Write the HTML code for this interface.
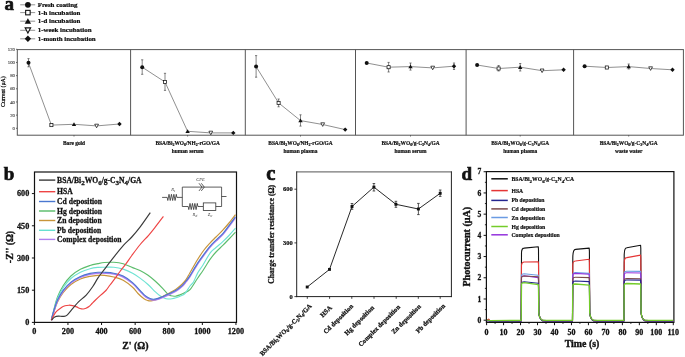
<!DOCTYPE html>
<html><head><meta charset="utf-8"><style>
html,body{margin:0;padding:0;background:#fff;}
svg{display:block;will-change:transform;filter:blur(0.35px);}
text{font-family:"Liberation Serif",serif;}
</style></head><body>
<svg width="685" height="357" viewBox="0 0 685 357">
<rect width="685" height="357" fill="#fff"/>
<text x="4.50" y="10.30" font-size="19" text-anchor="start" font-weight="bold" fill="#111" stroke="#111" stroke-width="0.665" font-family="Liberation Serif" >a</text>
<line x1="20.20" y1="4.80" x2="35.20" y2="4.80" stroke="#777" stroke-width="0.8"/>
<circle cx="27.90" cy="4.80" r="2.90" fill="#111"/>
<text x="37.70" y="6.75" font-size="6.9" text-anchor="start" font-weight="bold" fill="#111" stroke="#111" stroke-width="0.242" font-family="Liberation Serif" >Fresh coating</text>
<line x1="20.20" y1="12.60" x2="35.20" y2="12.60" stroke="#777" stroke-width="0.8"/>
<rect x="25.65" y="10.35" width="4.50" height="4.50" fill="#fff" stroke="#111" stroke-width="1.09"/>
<text x="37.70" y="14.55" font-size="6.9" text-anchor="start" font-weight="bold" fill="#111" stroke="#111" stroke-width="0.242" font-family="Liberation Serif" >1-h incubation</text>
<line x1="20.20" y1="21.20" x2="35.20" y2="21.20" stroke="#777" stroke-width="0.8"/>
<polygon points="27.90,18.17 24.71,23.68 31.09,23.68" fill="#111"/>
<text x="37.70" y="23.15" font-size="6.9" text-anchor="start" font-weight="bold" fill="#111" stroke="#111" stroke-width="0.242" font-family="Liberation Serif" >1-d incubation</text>
<line x1="20.20" y1="30.30" x2="35.20" y2="30.30" stroke="#777" stroke-width="0.8"/>
<polygon points="25.14,27.84 30.65,27.84 27.90,33.01" fill="#fff" stroke="#111" stroke-width="1.09"/>
<text x="37.70" y="32.25" font-size="6.9" text-anchor="start" font-weight="bold" fill="#111" stroke="#111" stroke-width="0.242" font-family="Liberation Serif" >1-week incubation</text>
<line x1="20.20" y1="38.80" x2="35.20" y2="38.80" stroke="#777" stroke-width="0.8"/>
<polygon points="27.90,35.61 31.09,38.80 27.90,41.99 24.71,38.80" fill="#111"/>
<text x="37.70" y="40.75" font-size="6.9" text-anchor="start" font-weight="bold" fill="#111" stroke="#111" stroke-width="0.242" font-family="Liberation Serif" >1-month incubation</text>
<rect x="17.3" y="49.6" width="666.1" height="85.6" fill="none" stroke="#555" stroke-width="1.0"/>
<line x1="130.60" y1="49.60" x2="130.60" y2="135.20" stroke="#555" stroke-width="1.0"/>
<line x1="245.30" y1="49.60" x2="245.30" y2="135.20" stroke="#555" stroke-width="1.0"/>
<line x1="355.50" y1="49.60" x2="355.50" y2="135.20" stroke="#555" stroke-width="1.0"/>
<line x1="466.10" y1="49.60" x2="466.10" y2="135.20" stroke="#555" stroke-width="1.0"/>
<line x1="573.60" y1="49.60" x2="573.60" y2="135.20" stroke="#555" stroke-width="1.0"/>
<line x1="16.00" y1="128.30" x2="17.30" y2="128.30" stroke="#444" stroke-width="0.8"/>
<text x="14.90" y="129.90" font-size="4.7" text-anchor="end" font-weight="normal" fill="#333" stroke="#333" stroke-width="0.100" font-family="Liberation Serif" >0</text>
<line x1="16.00" y1="115.13" x2="17.30" y2="115.13" stroke="#444" stroke-width="0.8"/>
<text x="14.90" y="116.73" font-size="4.7" text-anchor="end" font-weight="normal" fill="#333" stroke="#333" stroke-width="0.100" font-family="Liberation Serif" >20</text>
<line x1="16.00" y1="101.97" x2="17.30" y2="101.97" stroke="#444" stroke-width="0.8"/>
<text x="14.90" y="103.57" font-size="4.7" text-anchor="end" font-weight="normal" fill="#333" stroke="#333" stroke-width="0.100" font-family="Liberation Serif" >40</text>
<line x1="16.00" y1="88.80" x2="17.30" y2="88.80" stroke="#444" stroke-width="0.8"/>
<text x="14.90" y="90.40" font-size="4.7" text-anchor="end" font-weight="normal" fill="#333" stroke="#333" stroke-width="0.100" font-family="Liberation Serif" >60</text>
<line x1="16.00" y1="75.64" x2="17.30" y2="75.64" stroke="#444" stroke-width="0.8"/>
<text x="14.90" y="77.24" font-size="4.7" text-anchor="end" font-weight="normal" fill="#333" stroke="#333" stroke-width="0.100" font-family="Liberation Serif" >80</text>
<line x1="16.00" y1="62.47" x2="17.30" y2="62.47" stroke="#444" stroke-width="0.8"/>
<text x="14.90" y="64.07" font-size="4.7" text-anchor="end" font-weight="normal" fill="#333" stroke="#333" stroke-width="0.100" font-family="Liberation Serif" >100</text>
<line x1="16.00" y1="49.30" x2="17.30" y2="49.30" stroke="#444" stroke-width="0.8"/>
<text x="14.90" y="50.90" font-size="4.7" text-anchor="end" font-weight="normal" fill="#333" stroke="#333" stroke-width="0.100" font-family="Liberation Serif" >120</text>
<text x="0.00" y="0.00" font-size="5.9" text-anchor="middle" font-weight="normal" fill="#000" stroke="#000" stroke-width="0.207" font-family="Liberation Serif" transform="translate(5.2,91.6) rotate(-90)">Current (μA)</text>
<polyline points="28.50,62.80 51.40,125.10 74.00,124.30 96.60,125.90 119.50,124.00" fill="none" stroke="#444" stroke-width="0.6" stroke-linejoin="round" />
<line x1="28.50" y1="58.60" x2="28.50" y2="66.80" stroke="#333" stroke-width="0.6"/>
<line x1="27.40" y1="58.60" x2="29.60" y2="58.60" stroke="#333" stroke-width="0.6"/>
<line x1="27.40" y1="66.80" x2="29.60" y2="66.80" stroke="#333" stroke-width="0.6"/>
<circle cx="28.50" cy="62.80" r="2.00" fill="#111"/>
<rect x="49.85" y="123.55" width="3.10" height="3.10" fill="#fff" stroke="#111" stroke-width="0.75"/>
<polygon points="74.00,122.21 71.80,126.01 76.20,126.01" fill="#111"/>
<polygon points="94.70,124.20 98.50,124.20 96.60,127.77" fill="#fff" stroke="#111" stroke-width="0.75"/>
<polygon points="119.50,121.80 121.70,124.00 119.50,126.20 117.30,124.00" fill="#111"/>
<line x1="74.00" y1="135.20" x2="74.00" y2="136.60" stroke="#333" stroke-width="0.6"/>
<polyline points="142.20,67.20 165.00,82.00 187.60,131.30 210.80,132.90 233.30,132.90" fill="none" stroke="#444" stroke-width="0.6" stroke-linejoin="round" />
<line x1="142.20" y1="59.80" x2="142.20" y2="74.30" stroke="#333" stroke-width="0.6"/>
<line x1="141.10" y1="59.80" x2="143.30" y2="59.80" stroke="#333" stroke-width="0.6"/>
<line x1="141.10" y1="74.30" x2="143.30" y2="74.30" stroke="#333" stroke-width="0.6"/>
<circle cx="142.20" cy="67.20" r="2.00" fill="#111"/>
<line x1="165.00" y1="73.30" x2="165.00" y2="90.40" stroke="#333" stroke-width="0.6"/>
<line x1="163.90" y1="73.30" x2="166.10" y2="73.30" stroke="#333" stroke-width="0.6"/>
<line x1="163.90" y1="90.40" x2="166.10" y2="90.40" stroke="#333" stroke-width="0.6"/>
<rect x="163.45" y="80.45" width="3.10" height="3.10" fill="#fff" stroke="#111" stroke-width="0.75"/>
<polygon points="187.60,129.21 185.40,133.01 189.80,133.01" fill="#111"/>
<polygon points="208.90,131.20 212.70,131.20 210.80,134.77" fill="#fff" stroke="#111" stroke-width="0.75"/>
<polygon points="233.30,130.70 235.50,132.90 233.30,135.10 231.10,132.90" fill="#111"/>
<line x1="187.60" y1="135.20" x2="187.60" y2="136.60" stroke="#333" stroke-width="0.6"/>
<polyline points="256.10,66.60 278.60,102.90 300.50,120.60 322.70,124.50 345.20,129.60" fill="none" stroke="#444" stroke-width="0.6" stroke-linejoin="round" />
<line x1="256.10" y1="55.60" x2="256.10" y2="77.20" stroke="#333" stroke-width="0.6"/>
<line x1="255.00" y1="55.60" x2="257.20" y2="55.60" stroke="#333" stroke-width="0.6"/>
<line x1="255.00" y1="77.20" x2="257.20" y2="77.20" stroke="#333" stroke-width="0.6"/>
<circle cx="256.10" cy="66.60" r="2.00" fill="#111"/>
<line x1="278.60" y1="99.00" x2="278.60" y2="106.80" stroke="#333" stroke-width="0.6"/>
<line x1="277.50" y1="99.00" x2="279.70" y2="99.00" stroke="#333" stroke-width="0.6"/>
<line x1="277.50" y1="106.80" x2="279.70" y2="106.80" stroke="#333" stroke-width="0.6"/>
<rect x="277.05" y="101.35" width="3.10" height="3.10" fill="#fff" stroke="#111" stroke-width="0.75"/>
<line x1="300.50" y1="114.80" x2="300.50" y2="126.10" stroke="#333" stroke-width="0.6"/>
<line x1="299.40" y1="114.80" x2="301.60" y2="114.80" stroke="#333" stroke-width="0.6"/>
<line x1="299.40" y1="126.10" x2="301.60" y2="126.10" stroke="#333" stroke-width="0.6"/>
<polygon points="300.50,118.51 298.30,122.31 302.70,122.31" fill="#111"/>
<polygon points="320.80,122.80 324.60,122.80 322.70,126.37" fill="#fff" stroke="#111" stroke-width="0.75"/>
<polygon points="345.20,127.40 347.40,129.60 345.20,131.80 343.00,129.60" fill="#111"/>
<line x1="300.50" y1="135.20" x2="300.50" y2="136.60" stroke="#333" stroke-width="0.6"/>
<polyline points="366.70,63.00 388.60,67.20 410.50,66.60 432.70,67.90 454.00,66.20" fill="none" stroke="#444" stroke-width="0.6" stroke-linejoin="round" />
<circle cx="366.70" cy="63.00" r="2.00" fill="#111"/>
<line x1="388.60" y1="62.40" x2="388.60" y2="72.00" stroke="#333" stroke-width="0.6"/>
<line x1="387.50" y1="62.40" x2="389.70" y2="62.40" stroke="#333" stroke-width="0.6"/>
<line x1="387.50" y1="72.00" x2="389.70" y2="72.00" stroke="#333" stroke-width="0.6"/>
<rect x="387.05" y="65.65" width="3.10" height="3.10" fill="#fff" stroke="#111" stroke-width="0.75"/>
<line x1="410.50" y1="63.00" x2="410.50" y2="70.10" stroke="#333" stroke-width="0.6"/>
<line x1="409.40" y1="63.00" x2="411.60" y2="63.00" stroke="#333" stroke-width="0.6"/>
<line x1="409.40" y1="70.10" x2="411.60" y2="70.10" stroke="#333" stroke-width="0.6"/>
<polygon points="410.50,64.51 408.30,68.31 412.70,68.31" fill="#111"/>
<polygon points="430.80,66.20 434.60,66.20 432.70,69.77" fill="#fff" stroke="#111" stroke-width="0.75"/>
<line x1="454.00" y1="63.00" x2="454.00" y2="69.50" stroke="#333" stroke-width="0.6"/>
<line x1="452.90" y1="63.00" x2="455.10" y2="63.00" stroke="#333" stroke-width="0.6"/>
<line x1="452.90" y1="69.50" x2="455.10" y2="69.50" stroke="#333" stroke-width="0.6"/>
<polygon points="454.00,64.00 456.20,66.20 454.00,68.40 451.80,66.20" fill="#111"/>
<line x1="410.50" y1="135.20" x2="410.50" y2="136.60" stroke="#333" stroke-width="0.6"/>
<polyline points="477.10,65.00 498.60,68.50 520.20,67.20 542.10,70.70 563.60,69.80" fill="none" stroke="#444" stroke-width="0.6" stroke-linejoin="round" />
<circle cx="477.10" cy="65.00" r="2.00" fill="#111"/>
<line x1="498.60" y1="65.50" x2="498.60" y2="71.00" stroke="#333" stroke-width="0.6"/>
<line x1="497.50" y1="65.50" x2="499.70" y2="65.50" stroke="#333" stroke-width="0.6"/>
<line x1="497.50" y1="71.00" x2="499.70" y2="71.00" stroke="#333" stroke-width="0.6"/>
<rect x="497.05" y="66.95" width="3.10" height="3.10" fill="#fff" stroke="#111" stroke-width="0.75"/>
<line x1="520.20" y1="63.50" x2="520.20" y2="71.00" stroke="#333" stroke-width="0.6"/>
<line x1="519.10" y1="63.50" x2="521.30" y2="63.50" stroke="#333" stroke-width="0.6"/>
<line x1="519.10" y1="71.00" x2="521.30" y2="71.00" stroke="#333" stroke-width="0.6"/>
<polygon points="520.20,65.11 518.00,68.91 522.40,68.91" fill="#111"/>
<polygon points="540.20,69.00 544.00,69.00 542.10,72.57" fill="#fff" stroke="#111" stroke-width="0.75"/>
<polygon points="563.60,67.60 565.80,69.80 563.60,72.00 561.40,69.80" fill="#111"/>
<line x1="520.20" y1="135.20" x2="520.20" y2="136.60" stroke="#333" stroke-width="0.6"/>
<polyline points="584.60,66.20 606.80,67.50 628.70,66.60 650.60,68.50 672.50,69.80" fill="none" stroke="#444" stroke-width="0.6" stroke-linejoin="round" />
<circle cx="584.60" cy="66.20" r="2.00" fill="#111"/>
<rect x="605.25" y="65.95" width="3.10" height="3.10" fill="#fff" stroke="#111" stroke-width="0.75"/>
<line x1="628.70" y1="64.00" x2="628.70" y2="69.00" stroke="#333" stroke-width="0.6"/>
<line x1="627.60" y1="64.00" x2="629.80" y2="64.00" stroke="#333" stroke-width="0.6"/>
<line x1="627.60" y1="69.00" x2="629.80" y2="69.00" stroke="#333" stroke-width="0.6"/>
<polygon points="628.70,64.51 626.50,68.31 630.90,68.31" fill="#111"/>
<polygon points="648.70,66.80 652.50,66.80 650.60,70.37" fill="#fff" stroke="#111" stroke-width="0.75"/>
<polygon points="672.50,67.60 674.70,69.80 672.50,72.00 670.30,69.80" fill="#111"/>
<line x1="628.70" y1="135.20" x2="628.70" y2="136.60" stroke="#333" stroke-width="0.6"/>
<text x="74.00" y="144.80" font-size="5.4" text-anchor="middle" font-weight="bold" fill="#111" stroke="#111" stroke-width="0.189" font-family="Liberation Serif" >Bare gold</text>
<text x="187.60" y="144.80" font-size="5.4" text-anchor="middle" font-weight="bold" fill="#111" stroke="#111" stroke-width="0.189" font-family="Liberation Serif" >BSA/Bi<tspan font-size="4.0" dy="1.1">2</tspan><tspan dy="-1.1">WO</tspan><tspan font-size="4.0" dy="1.1">6</tspan><tspan dy="-1.1">/NH</tspan><tspan font-size="4.0" dy="1.1">2</tspan><tspan dy="-1.1">-rGO/GA</tspan></text>
<text x="187.60" y="152.60" font-size="5.4" text-anchor="middle" font-weight="bold" fill="#111" stroke="#111" stroke-width="0.189" font-family="Liberation Serif" >human serum</text>
<text x="300.50" y="144.80" font-size="5.4" text-anchor="middle" font-weight="bold" fill="#111" stroke="#111" stroke-width="0.189" font-family="Liberation Serif" >BSA/Bi<tspan font-size="4.0" dy="1.1">2</tspan><tspan dy="-1.1">WO</tspan><tspan font-size="4.0" dy="1.1">6</tspan><tspan dy="-1.1">/NH</tspan><tspan font-size="4.0" dy="1.1">2</tspan><tspan dy="-1.1">-rGO/GA</tspan></text>
<text x="300.50" y="152.60" font-size="5.4" text-anchor="middle" font-weight="bold" fill="#111" stroke="#111" stroke-width="0.189" font-family="Liberation Serif" >human plasma</text>
<text x="410.50" y="144.80" font-size="5.4" text-anchor="middle" font-weight="bold" fill="#111" stroke="#111" stroke-width="0.189" font-family="Liberation Serif" >BSA/Bi<tspan font-size="4.0" dy="1.1">2</tspan><tspan dy="-1.1">WO</tspan><tspan font-size="4.0" dy="1.1">6</tspan><tspan dy="-1.1">/g-C</tspan><tspan font-size="4.0" dy="1.1">3</tspan><tspan dy="-1.1">N</tspan><tspan font-size="4.0" dy="1.1">4</tspan><tspan dy="-1.1">/GA</tspan></text>
<text x="410.50" y="152.60" font-size="5.4" text-anchor="middle" font-weight="bold" fill="#111" stroke="#111" stroke-width="0.189" font-family="Liberation Serif" >human serum</text>
<text x="520.20" y="144.80" font-size="5.4" text-anchor="middle" font-weight="bold" fill="#111" stroke="#111" stroke-width="0.189" font-family="Liberation Serif" >BSA/Bi<tspan font-size="4.0" dy="1.1">2</tspan><tspan dy="-1.1">WO</tspan><tspan font-size="4.0" dy="1.1">6</tspan><tspan dy="-1.1">/g-C</tspan><tspan font-size="4.0" dy="1.1">3</tspan><tspan dy="-1.1">N</tspan><tspan font-size="4.0" dy="1.1">4</tspan><tspan dy="-1.1">/GA</tspan></text>
<text x="520.20" y="152.60" font-size="5.4" text-anchor="middle" font-weight="bold" fill="#111" stroke="#111" stroke-width="0.189" font-family="Liberation Serif" >human plasma</text>
<text x="628.70" y="144.80" font-size="5.4" text-anchor="middle" font-weight="bold" fill="#111" stroke="#111" stroke-width="0.189" font-family="Liberation Serif" >BSA/Bi<tspan font-size="4.0" dy="1.1">2</tspan><tspan dy="-1.1">WO</tspan><tspan font-size="4.0" dy="1.1">6</tspan><tspan dy="-1.1">/g-C</tspan><tspan font-size="4.0" dy="1.1">3</tspan><tspan dy="-1.1">N</tspan><tspan font-size="4.0" dy="1.1">4</tspan><tspan dy="-1.1">/GA</tspan></text>
<text x="628.70" y="152.60" font-size="5.4" text-anchor="middle" font-weight="bold" fill="#111" stroke="#111" stroke-width="0.189" font-family="Liberation Serif" >waste water</text>
<text x="3.80" y="180.30" font-size="19" text-anchor="start" font-weight="bold" fill="#111" stroke="#111" stroke-width="0.665" font-family="Liberation Serif" >b</text>
<rect x="34.5" y="172.0" width="202.0" height="150.39999999999998" fill="none" stroke="#111" stroke-width="1.2"/>
<line x1="34.35" y1="322.40" x2="34.35" y2="325.00" stroke="#111" stroke-width="1.0"/>
<text x="34.35" y="334.40" font-size="8.2" text-anchor="middle" font-weight="bold" fill="#111" stroke="#111" stroke-width="0.287" font-family="Liberation Serif" >0</text>
<line x1="67.95" y1="322.40" x2="67.95" y2="325.00" stroke="#111" stroke-width="1.0"/>
<text x="67.95" y="334.40" font-size="8.2" text-anchor="middle" font-weight="bold" fill="#111" stroke="#111" stroke-width="0.287" font-family="Liberation Serif" >200</text>
<line x1="101.55" y1="322.40" x2="101.55" y2="325.00" stroke="#111" stroke-width="1.0"/>
<text x="101.55" y="334.40" font-size="8.2" text-anchor="middle" font-weight="bold" fill="#111" stroke="#111" stroke-width="0.287" font-family="Liberation Serif" >400</text>
<line x1="135.15" y1="322.40" x2="135.15" y2="325.00" stroke="#111" stroke-width="1.0"/>
<text x="135.15" y="334.40" font-size="8.2" text-anchor="middle" font-weight="bold" fill="#111" stroke="#111" stroke-width="0.287" font-family="Liberation Serif" >600</text>
<line x1="168.75" y1="322.40" x2="168.75" y2="325.00" stroke="#111" stroke-width="1.0"/>
<text x="168.75" y="334.40" font-size="8.2" text-anchor="middle" font-weight="bold" fill="#111" stroke="#111" stroke-width="0.287" font-family="Liberation Serif" >800</text>
<line x1="202.35" y1="322.40" x2="202.35" y2="325.00" stroke="#111" stroke-width="1.0"/>
<text x="202.35" y="334.40" font-size="8.2" text-anchor="middle" font-weight="bold" fill="#111" stroke="#111" stroke-width="0.287" font-family="Liberation Serif" >1000</text>
<line x1="235.95" y1="322.40" x2="235.95" y2="325.00" stroke="#111" stroke-width="1.0"/>
<text x="235.95" y="334.40" font-size="8.2" text-anchor="middle" font-weight="bold" fill="#111" stroke="#111" stroke-width="0.287" font-family="Liberation Serif" >1200</text>
<line x1="31.90" y1="322.40" x2="34.50" y2="322.40" stroke="#111" stroke-width="1.0"/>
<text x="29.30" y="325.20" font-size="8.2" text-anchor="end" font-weight="bold" fill="#111" stroke="#111" stroke-width="0.287" font-family="Liberation Serif" >0</text>
<line x1="31.90" y1="290.19" x2="34.50" y2="290.19" stroke="#111" stroke-width="1.0"/>
<text x="29.30" y="293.00" font-size="8.2" text-anchor="end" font-weight="bold" fill="#111" stroke="#111" stroke-width="0.287" font-family="Liberation Serif" >150</text>
<line x1="31.90" y1="257.99" x2="34.50" y2="257.99" stroke="#111" stroke-width="1.0"/>
<text x="29.30" y="260.79" font-size="8.2" text-anchor="end" font-weight="bold" fill="#111" stroke="#111" stroke-width="0.287" font-family="Liberation Serif" >300</text>
<line x1="31.90" y1="225.78" x2="34.50" y2="225.78" stroke="#111" stroke-width="1.0"/>
<text x="29.30" y="228.58" font-size="8.2" text-anchor="end" font-weight="bold" fill="#111" stroke="#111" stroke-width="0.287" font-family="Liberation Serif" >450</text>
<line x1="31.90" y1="193.58" x2="34.50" y2="193.58" stroke="#111" stroke-width="1.0"/>
<text x="29.30" y="196.38" font-size="8.2" text-anchor="end" font-weight="bold" fill="#111" stroke="#111" stroke-width="0.287" font-family="Liberation Serif" >600</text>
<text x="135.40" y="349.00" font-size="9.9" text-anchor="middle" font-weight="bold" fill="#111" stroke="#111" stroke-width="0.347" font-family="Liberation Serif" >Z' (Ω)</text>
<text x="0.00" y="0.00" font-size="9.9" text-anchor="middle" font-weight="bold" fill="#111" stroke="#111" stroke-width="0.347" font-family="Liberation Serif" transform="translate(13.3,247) rotate(-90)">-Z'' (Ω)</text>
<line x1="39.00" y1="180.10" x2="55.30" y2="180.10" stroke="#3a3a3a" stroke-width="1.4"/>
<text x="57.10" y="182.70" font-size="7.6" text-anchor="start" font-weight="bold" fill="#111" stroke="#111" stroke-width="0.266" font-family="Liberation Serif" >BSA/Bi<tspan font-size="7.0" dy="2">2</tspan><tspan dy="-2">WO</tspan><tspan font-size="7.0" dy="2">6</tspan><tspan dy="-2">/g-C</tspan><tspan font-size="7.0" dy="2">3</tspan><tspan dy="-2">N</tspan><tspan font-size="7.0" dy="2">4</tspan><tspan dy="-2">/GA</tspan></text>
<line x1="39.00" y1="191.70" x2="55.30" y2="191.70" stroke="#ee4444" stroke-width="1.4"/>
<text x="57.10" y="194.30" font-size="7.6" text-anchor="start" font-weight="bold" fill="#111" stroke="#111" stroke-width="0.266" font-family="Liberation Serif" >HSA</text>
<line x1="39.00" y1="201.50" x2="55.30" y2="201.50" stroke="#4a78d0" stroke-width="1.4"/>
<text x="57.10" y="204.10" font-size="7.6" text-anchor="start" font-weight="bold" fill="#111" stroke="#111" stroke-width="0.266" font-family="Liberation Serif" >Cd deposition</text>
<line x1="39.00" y1="211.00" x2="55.30" y2="211.00" stroke="#55bb66" stroke-width="1.4"/>
<text x="57.10" y="213.60" font-size="7.6" text-anchor="start" font-weight="bold" fill="#111" stroke="#111" stroke-width="0.266" font-family="Liberation Serif" >Hg deposition</text>
<line x1="39.00" y1="220.50" x2="55.30" y2="220.50" stroke="#c8953a" stroke-width="1.4"/>
<text x="57.10" y="223.10" font-size="7.6" text-anchor="start" font-weight="bold" fill="#111" stroke="#111" stroke-width="0.266" font-family="Liberation Serif" >Zn deposition</text>
<line x1="39.00" y1="230.30" x2="55.30" y2="230.30" stroke="#66e0d0" stroke-width="1.4"/>
<text x="57.10" y="232.90" font-size="7.6" text-anchor="start" font-weight="bold" fill="#111" stroke="#111" stroke-width="0.266" font-family="Liberation Serif" >Pb deposition</text>
<line x1="39.00" y1="239.40" x2="55.30" y2="239.40" stroke="#b080ee" stroke-width="1.4"/>
<text x="57.10" y="242.00" font-size="7.6" text-anchor="start" font-weight="bold" fill="#111" stroke="#111" stroke-width="0.266" font-family="Liberation Serif" >Complex deposition</text>
<path d="M51.40,320.20 C51.78,318.55 52.68,314.17 53.70,310.30 C54.72,306.43 55.90,301.13 57.50,297.00 C59.10,292.87 61.07,289.00 63.30,285.50 C65.53,282.00 68.05,278.70 70.90,276.00 C73.75,273.30 77.22,271.05 80.40,269.30 C83.58,267.55 87.07,266.45 90.00,265.50 C92.93,264.55 95.60,264.10 98.00,263.60 C100.40,263.10 101.77,262.72 104.40,262.50 C107.03,262.28 110.67,262.08 113.80,262.30 C116.93,262.52 120.07,262.92 123.20,263.80 C126.33,264.68 129.80,266.50 132.60,267.60 C135.40,268.70 137.48,269.17 140.00,270.40 C142.52,271.63 145.13,273.20 147.70,275.00 C150.27,276.80 152.83,278.90 155.40,281.20 C157.97,283.50 161.05,286.67 163.10,288.80 C165.15,290.93 166.38,292.83 167.70,294.00 C169.02,295.17 169.72,295.43 171.00,295.80 C172.28,296.17 173.90,296.35 175.40,296.20 C176.90,296.05 178.47,295.48 180.00,294.90 C181.53,294.32 182.93,293.58 184.60,292.70 C186.27,291.82 187.83,292.02 190.00,289.60 C192.17,287.18 195.43,281.38 197.60,278.20 C199.77,275.02 200.90,273.67 203.00,270.50 C205.10,267.33 208.03,262.28 210.20,259.20 C212.37,256.12 213.90,254.30 216.00,252.00 C218.10,249.70 220.63,247.57 222.80,245.40 C224.97,243.23 226.88,241.20 229.00,239.00 C231.12,236.80 234.42,233.33 235.50,232.20" fill="none" stroke="#5cbd6c" stroke-width="1.15" stroke-linejoin="round"/>
<path d="M51.40,320.20 C51.78,318.67 52.68,314.62 53.70,311.00 C54.72,307.38 55.90,302.42 57.50,298.50 C59.10,294.58 61.07,290.83 63.30,287.50 C65.53,284.17 68.05,281.05 70.90,278.50 C73.75,275.95 77.22,273.83 80.40,272.20 C83.58,270.57 87.07,269.50 90.00,268.70 C92.93,267.90 95.60,267.65 98.00,267.40 C100.40,267.15 101.77,267.23 104.40,267.20 C107.03,267.17 110.67,266.88 113.80,267.20 C116.93,267.52 120.07,268.10 123.20,269.10 C126.33,270.10 129.80,271.70 132.60,273.20 C135.40,274.70 137.48,276.27 140.00,278.10 C142.52,279.93 145.13,281.90 147.70,284.20 C150.27,286.50 153.35,289.97 155.40,291.90 C157.45,293.83 158.57,294.78 160.00,295.80 C161.43,296.82 162.67,297.47 164.00,298.00 C165.33,298.53 166.67,298.87 168.00,299.00 C169.33,299.13 170.67,299.00 172.00,298.80 C173.33,298.60 174.67,298.22 176.00,297.80 C177.33,297.38 178.50,297.02 180.00,296.30 C181.50,295.58 183.33,295.22 185.00,293.50 C186.67,291.78 188.58,287.92 190.00,286.00 C191.42,284.08 192.23,284.15 193.50,282.00 C194.77,279.85 196.02,275.93 197.60,273.10 C199.18,270.27 200.90,268.37 203.00,265.00 C205.10,261.63 208.03,255.82 210.20,252.90 C212.37,249.98 213.90,249.38 216.00,247.50 C218.10,245.62 220.63,243.60 222.80,241.60 C224.97,239.60 226.88,237.73 229.00,235.50 C231.12,233.27 234.42,229.42 235.50,228.20" fill="none" stroke="#6fe3d3" stroke-width="1.15" stroke-linejoin="round"/>
<path d="M51.40,320.20 C51.78,318.92 52.68,315.53 53.70,312.50 C54.72,309.47 55.90,305.33 57.50,302.00 C59.10,298.67 61.07,295.42 63.30,292.50 C65.53,289.58 68.05,286.75 70.90,284.50 C73.75,282.25 77.22,280.37 80.40,279.00 C83.58,277.63 87.07,276.92 90.00,276.30 C92.93,275.68 95.60,275.45 98.00,275.30 C100.40,275.15 101.77,275.12 104.40,275.40 C107.03,275.68 110.67,276.18 113.80,277.00 C116.93,277.82 120.07,278.58 123.20,280.30 C126.33,282.02 130.13,285.10 132.60,287.30 C135.07,289.50 136.10,291.58 138.00,293.50 C139.90,295.42 142.33,297.62 144.00,298.80 C145.67,299.98 146.83,300.25 148.00,300.60 C149.17,300.95 149.67,301.07 151.00,300.90 C152.33,300.73 153.98,300.38 156.00,299.60 C158.02,298.82 160.77,297.35 163.10,296.20 C165.43,295.05 167.85,293.87 170.00,292.70 C172.15,291.53 174.00,290.62 176.00,289.20 C178.00,287.78 180.33,285.80 182.00,284.20 C183.67,282.60 184.67,281.52 186.00,279.60 C187.33,277.68 188.07,276.05 190.00,272.70 C191.93,269.35 195.27,263.28 197.60,259.50 C199.93,255.72 201.90,252.78 204.00,250.00 C206.10,247.22 208.20,244.97 210.20,242.80 C212.20,240.63 213.90,239.10 216.00,237.00 C218.10,234.90 220.63,232.53 222.80,230.20 C224.97,227.87 226.88,225.60 229.00,223.00 C231.12,220.40 234.42,216.00 235.50,214.60" fill="none" stroke="#c8953a" stroke-width="1.2" stroke-linejoin="round"/>
<path d="M51.40,320.20 C51.78,318.83 52.68,315.20 53.70,312.00 C54.72,308.80 55.90,304.50 57.50,301.00 C59.10,297.50 61.07,294.00 63.30,291.00 C65.53,288.00 68.05,285.28 70.90,283.00 C73.75,280.72 77.22,278.75 80.40,277.30 C83.58,275.85 87.07,274.98 90.00,274.30 C92.93,273.62 95.60,273.38 98.00,273.20 C100.40,273.02 101.77,273.05 104.40,273.20 C107.03,273.35 110.67,273.47 113.80,274.10 C116.93,274.73 120.07,275.43 123.20,277.00 C126.33,278.57 129.80,281.13 132.60,283.50 C135.40,285.87 138.10,289.20 140.00,291.20 C141.90,293.20 142.67,294.30 144.00,295.50 C145.33,296.70 146.67,297.65 148.00,298.40 C149.33,299.15 150.67,299.77 152.00,300.00 C153.33,300.23 154.15,300.25 156.00,299.80 C157.85,299.35 160.77,298.23 163.10,297.30 C165.43,296.37 167.85,295.22 170.00,294.20 C172.15,293.18 174.00,292.48 176.00,291.20 C178.00,289.92 180.33,288.05 182.00,286.50 C183.67,284.95 184.67,283.57 186.00,281.90 C187.33,280.23 188.07,279.48 190.00,276.50 C191.93,273.52 195.27,267.58 197.60,264.00 C199.93,260.42 201.90,257.83 204.00,255.00 C206.10,252.17 208.20,249.33 210.20,247.00 C212.20,244.67 213.90,243.08 216.00,241.00 C218.10,238.92 220.63,236.92 222.80,234.50 C224.97,232.08 226.88,229.32 229.00,226.50 C231.12,223.68 234.42,219.08 235.50,217.60" fill="none" stroke="#b07ff0" stroke-width="1.5" stroke-linejoin="round"/>
<path d="M51.40,319.30 C51.78,317.93 52.68,314.30 53.70,311.10 C54.72,307.90 55.90,303.60 57.50,300.10 C59.10,296.60 61.07,293.10 63.30,290.10 C65.53,287.10 68.05,284.38 70.90,282.10 C73.75,279.82 77.22,277.85 80.40,276.40 C83.58,274.95 87.07,274.08 90.00,273.40 C92.93,272.72 95.60,272.48 98.00,272.30 C100.40,272.12 101.77,272.15 104.40,272.30 C107.03,272.45 110.67,272.57 113.80,273.20 C116.93,273.83 120.07,274.53 123.20,276.10 C126.33,277.67 129.80,280.23 132.60,282.60 C135.40,284.97 138.10,288.30 140.00,290.30 C141.90,292.30 142.67,293.40 144.00,294.60 C145.33,295.80 146.67,296.75 148.00,297.50 C149.33,298.25 150.67,298.87 152.00,299.10 C153.33,299.33 154.15,299.35 156.00,298.90 C157.85,298.45 160.77,297.33 163.10,296.40 C165.43,295.47 167.85,294.32 170.00,293.30 C172.15,292.28 174.00,291.58 176.00,290.30 C178.00,289.02 180.33,287.15 182.00,285.60 C183.67,284.05 184.67,282.67 186.00,281.00 C187.33,279.33 188.07,278.58 190.00,275.60 C191.93,272.62 195.27,266.68 197.60,263.10 C199.93,259.52 201.90,256.93 204.00,254.10 C206.10,251.27 208.20,248.43 210.20,246.10 C212.20,243.77 213.90,242.18 216.00,240.10 C218.10,238.02 220.63,236.02 222.80,233.60 C224.97,231.18 226.88,228.42 229.00,225.60 C231.12,222.78 234.42,218.18 235.50,216.70" fill="none" stroke="#4a78d0" stroke-width="1.1" stroke-linejoin="round"/>
<path d="M51.40,320.20 C52.10,318.88 53.93,314.42 55.60,312.30 C57.27,310.18 59.83,308.58 61.40,307.50 C62.97,306.42 63.73,306.18 65.00,305.80 C66.27,305.42 67.75,305.23 69.00,305.20 C70.25,305.17 71.23,305.32 72.50,305.60 C73.77,305.88 75.35,306.42 76.60,306.90 C77.85,307.38 78.88,308.15 80.00,308.50 C81.12,308.85 82.30,309.05 83.30,309.00 C84.30,308.95 85.05,308.62 86.00,308.20 C86.95,307.78 88.00,307.28 89.00,306.50 C90.00,305.72 91.00,304.50 92.00,303.50 C93.00,302.50 93.55,301.88 95.00,300.50 C96.45,299.12 98.88,296.87 100.70,295.20 C102.52,293.53 104.35,292.20 105.90,290.50 C107.45,288.80 108.60,286.85 110.00,285.00 C111.40,283.15 112.63,281.65 114.30,279.40 C115.97,277.15 118.07,274.08 120.00,271.50 C121.93,268.92 123.93,266.57 125.90,263.90 C127.87,261.23 129.42,258.73 131.80,255.50 C134.18,252.27 137.40,247.87 140.20,244.50 C143.00,241.13 146.07,238.23 148.60,235.30 C151.13,232.37 152.93,230.05 155.40,226.90 C157.87,223.75 162.07,218.15 163.40,216.40" fill="none" stroke="#ee4444" stroke-width="1.15" stroke-linejoin="round"/>
<path d="M51.40,320.20 C51.95,319.67 53.52,317.68 54.70,317.00 C55.88,316.32 57.07,316.20 58.50,316.10 C59.93,316.00 61.87,316.57 63.30,316.40 C64.73,316.23 65.52,316.43 67.10,315.10 C68.68,313.77 70.90,310.62 72.80,308.40 C74.70,306.18 76.27,304.02 78.50,301.80 C80.73,299.58 83.82,297.65 86.20,295.10 C88.58,292.55 90.83,289.37 92.80,286.50 C94.77,283.63 96.07,280.75 98.00,277.90 C99.93,275.05 101.77,272.85 104.40,269.40 C107.03,265.95 110.63,261.20 113.80,257.20 C116.97,253.20 120.40,248.77 123.40,245.40 C126.40,242.03 129.00,240.08 131.80,237.00 C134.60,233.92 137.12,230.97 140.20,226.90 C143.28,222.83 148.62,214.98 150.30,212.60" fill="none" stroke="#3a3a3a" stroke-width="1.15" stroke-linejoin="round"/>
<line x1="162.10" y1="197.40" x2="167.20" y2="197.40" stroke="#333" stroke-width="0.8"/>
<polyline points="167.20,197.40 167.81,200.50 169.02,194.30 170.23,200.50 171.44,194.30 172.66,200.50 173.87,194.30 175.08,200.50 176.29,194.30 176.90,197.40" fill="none" stroke="#333" stroke-width="0.8" stroke-linejoin="round" />
<line x1="176.90" y1="197.40" x2="182.30" y2="197.40" stroke="#333" stroke-width="0.8"/>
<line x1="182.30" y1="187.10" x2="182.30" y2="206.50" stroke="#333" stroke-width="0.8"/>
<line x1="182.30" y1="187.10" x2="221.60" y2="187.10" stroke="#333" stroke-width="0.8"/>
<line x1="221.60" y1="187.10" x2="221.60" y2="206.50" stroke="#333" stroke-width="0.8"/>
<line x1="221.60" y1="196.50" x2="226.50" y2="196.50" stroke="#333" stroke-width="0.8"/>
<polyline points="199.00,183.30 202.00,187.10 199.00,190.90" fill="none" stroke="#333" stroke-width="0.8" stroke-linejoin="round" />
<polyline points="201.30,183.30 204.30,187.10 201.30,190.90" fill="none" stroke="#333" stroke-width="0.8" stroke-linejoin="round" />
<line x1="182.30" y1="206.50" x2="188.20" y2="206.50" stroke="#333" stroke-width="0.8"/>
<polyline points="188.20,206.50 188.81,209.60 190.02,203.40 191.23,209.60 192.44,203.40 193.66,209.60 194.87,203.40 196.08,209.60 197.29,203.40 197.90,206.50" fill="none" stroke="#333" stroke-width="0.8" stroke-linejoin="round" />
<line x1="197.90" y1="206.50" x2="203.30" y2="206.50" stroke="#333" stroke-width="0.8"/>
<rect x="203.3" y="202.9" width="12.5" height="7.5" fill="#fff" stroke="#333" stroke-width="0.8"/>
<line x1="215.80" y1="206.50" x2="221.60" y2="206.50" stroke="#333" stroke-width="0.8"/>
<text x="200.60" y="181.20" font-size="4.5" text-anchor="middle" font-weight="normal" fill="#333" font-family="Liberation Serif" font-style="italic">CPE</text>
<text x="173.20" y="191.20" font-size="4.4" text-anchor="middle" font-weight="normal" fill="#333" font-family="Liberation Serif" font-style="italic">R<tspan font-size="3" dy="0.9">s</tspan></text>
<text x="195.00" y="215.60" font-size="4.4" text-anchor="middle" font-weight="normal" fill="#333" font-family="Liberation Serif" font-style="italic">R<tspan font-size="3" dy="0.9">ct</tspan></text>
<text x="210.00" y="215.60" font-size="4.4" text-anchor="middle" font-weight="normal" fill="#333" font-family="Liberation Serif" font-style="italic">Z<tspan font-size="3" dy="0.9">w</tspan></text>
<text x="266.30" y="179.50" font-size="20.6" text-anchor="start" font-weight="bold" fill="#111" stroke="#111" stroke-width="0.721" font-family="Liberation Serif" >c</text>
<line x1="296.70" y1="171.90" x2="451.40" y2="171.90" stroke="#777" stroke-width="1.3"/>
<line x1="296.70" y1="171.30" x2="296.70" y2="297.10" stroke="#222" stroke-width="1.0"/>
<line x1="451.40" y1="171.30" x2="451.40" y2="297.10" stroke="#222" stroke-width="1.0"/>
<line x1="296.20" y1="296.60" x2="451.90" y2="296.60" stroke="#222" stroke-width="1.0"/>
<line x1="294.40" y1="296.60" x2="296.70" y2="296.60" stroke="#111" stroke-width="0.8"/>
<text x="292.60" y="298.70" font-size="6.4" text-anchor="end" font-weight="bold" fill="#111" stroke="#111" stroke-width="0.224" font-family="Liberation Serif" >0</text>
<line x1="294.40" y1="242.90" x2="296.70" y2="242.90" stroke="#111" stroke-width="0.8"/>
<text x="292.60" y="245.00" font-size="6.4" text-anchor="end" font-weight="bold" fill="#111" stroke="#111" stroke-width="0.224" font-family="Liberation Serif" >300</text>
<line x1="294.40" y1="189.20" x2="296.70" y2="189.20" stroke="#111" stroke-width="0.8"/>
<text x="292.60" y="191.30" font-size="6.4" text-anchor="end" font-weight="bold" fill="#111" stroke="#111" stroke-width="0.224" font-family="Liberation Serif" >600</text>
<text x="0.00" y="0.00" font-size="7.6" text-anchor="middle" font-weight="bold" fill="#111" stroke="#111" stroke-width="0.266" font-family="Liberation Serif" transform="translate(274.1,234.3) rotate(-90)">Charge transfer resistance (Ω)</text>
<polyline points="307.20,287.00 329.50,269.40 352.00,206.50 373.90,187.10 395.90,204.30 418.40,209.00 440.20,193.30" fill="none" stroke="#111" stroke-width="0.9" stroke-linejoin="round" />
<rect x="305.75" y="285.55" width="2.9" height="2.9" fill="#111"/>
<rect x="328.05" y="267.95" width="2.9" height="2.9" fill="#111"/>
<line x1="352.00" y1="203.50" x2="352.00" y2="209.30" stroke="#222" stroke-width="0.75"/>
<line x1="350.70" y1="203.50" x2="353.30" y2="203.50" stroke="#222" stroke-width="0.75"/>
<line x1="350.70" y1="209.30" x2="353.30" y2="209.30" stroke="#222" stroke-width="0.75"/>
<rect x="350.55" y="205.05" width="2.9" height="2.9" fill="#111"/>
<line x1="373.90" y1="183.50" x2="373.90" y2="191.00" stroke="#222" stroke-width="0.75"/>
<line x1="372.60" y1="183.50" x2="375.20" y2="183.50" stroke="#222" stroke-width="0.75"/>
<line x1="372.60" y1="191.00" x2="375.20" y2="191.00" stroke="#222" stroke-width="0.75"/>
<rect x="372.45" y="185.65" width="2.9" height="2.9" fill="#111"/>
<line x1="395.90" y1="201.30" x2="395.90" y2="207.30" stroke="#222" stroke-width="0.75"/>
<line x1="394.60" y1="201.30" x2="397.20" y2="201.30" stroke="#222" stroke-width="0.75"/>
<line x1="394.60" y1="207.30" x2="397.20" y2="207.30" stroke="#222" stroke-width="0.75"/>
<rect x="394.45" y="202.85" width="2.9" height="2.9" fill="#111"/>
<line x1="418.40" y1="203.40" x2="418.40" y2="214.60" stroke="#222" stroke-width="0.75"/>
<line x1="417.10" y1="203.40" x2="419.70" y2="203.40" stroke="#222" stroke-width="0.75"/>
<line x1="417.10" y1="214.60" x2="419.70" y2="214.60" stroke="#222" stroke-width="0.75"/>
<rect x="416.95" y="207.55" width="2.9" height="2.9" fill="#111"/>
<line x1="440.20" y1="190.00" x2="440.20" y2="196.40" stroke="#222" stroke-width="0.75"/>
<line x1="438.90" y1="190.00" x2="441.50" y2="190.00" stroke="#222" stroke-width="0.75"/>
<line x1="438.90" y1="196.40" x2="441.50" y2="196.40" stroke="#222" stroke-width="0.75"/>
<rect x="438.75" y="191.85" width="2.9" height="2.9" fill="#111"/>
<line x1="307.30" y1="296.60" x2="307.30" y2="298.80" stroke="#111" stroke-width="0.8"/>
<line x1="329.60" y1="296.60" x2="329.60" y2="298.80" stroke="#111" stroke-width="0.8"/>
<line x1="351.80" y1="296.60" x2="351.80" y2="298.80" stroke="#111" stroke-width="0.8"/>
<line x1="374.00" y1="296.60" x2="374.00" y2="298.80" stroke="#111" stroke-width="0.8"/>
<line x1="396.20" y1="296.60" x2="396.20" y2="298.80" stroke="#111" stroke-width="0.8"/>
<line x1="418.30" y1="296.60" x2="418.30" y2="298.80" stroke="#111" stroke-width="0.8"/>
<line x1="440.20" y1="296.60" x2="440.20" y2="298.80" stroke="#111" stroke-width="0.8"/>
<text x="0.00" y="0.00" font-size="6.6" text-anchor="end" font-weight="bold" fill="#111" stroke="#111" stroke-width="0.231" font-family="Liberation Serif" transform="translate(312.20,306.40) rotate(-45)">BSA/Bi<tspan font-size="4.6" dy="1.3">2</tspan><tspan dy="-1.3">WO</tspan><tspan font-size="4.6" dy="1.3">6</tspan><tspan dy="-1.3">/g-C</tspan><tspan font-size="4.6" dy="1.3">3</tspan><tspan dy="-1.3">N</tspan><tspan font-size="4.6" dy="1.3">4</tspan><tspan dy="-1.3">/GA</tspan></text>
<text x="0.00" y="0.00" font-size="6.6" text-anchor="end" font-weight="bold" fill="#111" stroke="#111" stroke-width="0.231" font-family="Liberation Serif" transform="translate(332.30,308.10) rotate(-45)">HSA</text>
<text x="0.00" y="0.00" font-size="6.6" text-anchor="end" font-weight="bold" fill="#111" stroke="#111" stroke-width="0.231" font-family="Liberation Serif" transform="translate(353.60,306.70) rotate(-45)">Cd deposition</text>
<text x="0.00" y="0.00" font-size="6.6" text-anchor="end" font-weight="bold" fill="#111" stroke="#111" stroke-width="0.231" font-family="Liberation Serif" transform="translate(374.60,308.10) rotate(-45)">Hg deposition</text>
<text x="0.00" y="0.00" font-size="6.6" text-anchor="end" font-weight="bold" fill="#111" stroke="#111" stroke-width="0.231" font-family="Liberation Serif" transform="translate(400.50,307.50) rotate(-45)">Complex deposition</text>
<text x="0.00" y="0.00" font-size="6.6" text-anchor="end" font-weight="bold" fill="#111" stroke="#111" stroke-width="0.231" font-family="Liberation Serif" transform="translate(421.30,307.00) rotate(-45)">Zn deposition</text>
<text x="0.00" y="0.00" font-size="6.6" text-anchor="end" font-weight="bold" fill="#111" stroke="#111" stroke-width="0.231" font-family="Liberation Serif" transform="translate(445.50,306.40) rotate(-45)">Pb deposition</text>
<text x="461.50" y="179.60" font-size="19" text-anchor="start" font-weight="bold" fill="#111" stroke="#111" stroke-width="0.665" font-family="Liberation Serif" >d</text>
<rect x="486.4" y="171.6" width="187.5" height="150.79999999999998" fill="none" stroke="#111" stroke-width="1.2"/>
<line x1="483.60" y1="320.20" x2="486.40" y2="320.20" stroke="#111" stroke-width="1.0"/>
<line x1="484.90" y1="309.60" x2="486.40" y2="309.60" stroke="#111" stroke-width="0.9"/>
<text x="481.20" y="322.90" font-size="7.6" text-anchor="end" font-weight="bold" fill="#111" stroke="#111" stroke-width="0.266" font-family="Liberation Serif" >0</text>
<line x1="483.60" y1="298.99" x2="486.40" y2="298.99" stroke="#111" stroke-width="1.0"/>
<line x1="484.90" y1="288.39" x2="486.40" y2="288.39" stroke="#111" stroke-width="0.9"/>
<text x="481.20" y="301.69" font-size="7.6" text-anchor="end" font-weight="bold" fill="#111" stroke="#111" stroke-width="0.266" font-family="Liberation Serif" >1</text>
<line x1="483.60" y1="277.78" x2="486.40" y2="277.78" stroke="#111" stroke-width="1.0"/>
<line x1="484.90" y1="267.18" x2="486.40" y2="267.18" stroke="#111" stroke-width="0.9"/>
<text x="481.20" y="280.48" font-size="7.6" text-anchor="end" font-weight="bold" fill="#111" stroke="#111" stroke-width="0.266" font-family="Liberation Serif" >2</text>
<line x1="483.60" y1="256.57" x2="486.40" y2="256.57" stroke="#111" stroke-width="1.0"/>
<line x1="484.90" y1="245.97" x2="486.40" y2="245.97" stroke="#111" stroke-width="0.9"/>
<text x="481.20" y="259.27" font-size="7.6" text-anchor="end" font-weight="bold" fill="#111" stroke="#111" stroke-width="0.266" font-family="Liberation Serif" >3</text>
<line x1="483.60" y1="235.36" x2="486.40" y2="235.36" stroke="#111" stroke-width="1.0"/>
<line x1="484.90" y1="224.76" x2="486.40" y2="224.76" stroke="#111" stroke-width="0.9"/>
<text x="481.20" y="238.06" font-size="7.6" text-anchor="end" font-weight="bold" fill="#111" stroke="#111" stroke-width="0.266" font-family="Liberation Serif" >4</text>
<line x1="483.60" y1="214.15" x2="486.40" y2="214.15" stroke="#111" stroke-width="1.0"/>
<line x1="484.90" y1="203.55" x2="486.40" y2="203.55" stroke="#111" stroke-width="0.9"/>
<text x="481.20" y="216.85" font-size="7.6" text-anchor="end" font-weight="bold" fill="#111" stroke="#111" stroke-width="0.266" font-family="Liberation Serif" >5</text>
<line x1="483.60" y1="192.94" x2="486.40" y2="192.94" stroke="#111" stroke-width="1.0"/>
<line x1="484.90" y1="182.34" x2="486.40" y2="182.34" stroke="#111" stroke-width="0.9"/>
<text x="481.20" y="195.64" font-size="7.6" text-anchor="end" font-weight="bold" fill="#111" stroke="#111" stroke-width="0.266" font-family="Liberation Serif" >6</text>
<line x1="483.60" y1="171.73" x2="486.40" y2="171.73" stroke="#111" stroke-width="1.0"/>
<text x="481.20" y="174.43" font-size="7.6" text-anchor="end" font-weight="bold" fill="#111" stroke="#111" stroke-width="0.266" font-family="Liberation Serif" >7</text>
<line x1="486.60" y1="322.40" x2="486.60" y2="325.20" stroke="#111" stroke-width="1.0"/>
<line x1="495.09" y1="322.40" x2="495.09" y2="323.90" stroke="#111" stroke-width="0.9"/>
<text x="486.60" y="334.60" font-size="8.0" text-anchor="middle" font-weight="bold" fill="#111" stroke="#111" stroke-width="0.280" font-family="Liberation Serif" >0</text>
<line x1="503.57" y1="322.40" x2="503.57" y2="325.20" stroke="#111" stroke-width="1.0"/>
<line x1="512.06" y1="322.40" x2="512.06" y2="323.90" stroke="#111" stroke-width="0.9"/>
<text x="503.57" y="334.60" font-size="8.0" text-anchor="middle" font-weight="bold" fill="#111" stroke="#111" stroke-width="0.280" font-family="Liberation Serif" >10</text>
<line x1="520.54" y1="322.40" x2="520.54" y2="325.20" stroke="#111" stroke-width="1.0"/>
<line x1="529.03" y1="322.40" x2="529.03" y2="323.90" stroke="#111" stroke-width="0.9"/>
<text x="520.54" y="334.60" font-size="8.0" text-anchor="middle" font-weight="bold" fill="#111" stroke="#111" stroke-width="0.280" font-family="Liberation Serif" >20</text>
<line x1="537.52" y1="322.40" x2="537.52" y2="325.20" stroke="#111" stroke-width="1.0"/>
<line x1="546.01" y1="322.40" x2="546.01" y2="323.90" stroke="#111" stroke-width="0.9"/>
<text x="537.52" y="334.60" font-size="8.0" text-anchor="middle" font-weight="bold" fill="#111" stroke="#111" stroke-width="0.280" font-family="Liberation Serif" >30</text>
<line x1="554.49" y1="322.40" x2="554.49" y2="325.20" stroke="#111" stroke-width="1.0"/>
<line x1="562.98" y1="322.40" x2="562.98" y2="323.90" stroke="#111" stroke-width="0.9"/>
<text x="554.49" y="334.60" font-size="8.0" text-anchor="middle" font-weight="bold" fill="#111" stroke="#111" stroke-width="0.280" font-family="Liberation Serif" >40</text>
<line x1="571.46" y1="322.40" x2="571.46" y2="325.20" stroke="#111" stroke-width="1.0"/>
<line x1="579.95" y1="322.40" x2="579.95" y2="323.90" stroke="#111" stroke-width="0.9"/>
<text x="571.46" y="334.60" font-size="8.0" text-anchor="middle" font-weight="bold" fill="#111" stroke="#111" stroke-width="0.280" font-family="Liberation Serif" >50</text>
<line x1="588.43" y1="322.40" x2="588.43" y2="325.20" stroke="#111" stroke-width="1.0"/>
<line x1="596.92" y1="322.40" x2="596.92" y2="323.90" stroke="#111" stroke-width="0.9"/>
<text x="588.43" y="334.60" font-size="8.0" text-anchor="middle" font-weight="bold" fill="#111" stroke="#111" stroke-width="0.280" font-family="Liberation Serif" >60</text>
<line x1="605.40" y1="322.40" x2="605.40" y2="325.20" stroke="#111" stroke-width="1.0"/>
<line x1="613.89" y1="322.40" x2="613.89" y2="323.90" stroke="#111" stroke-width="0.9"/>
<text x="605.40" y="334.60" font-size="8.0" text-anchor="middle" font-weight="bold" fill="#111" stroke="#111" stroke-width="0.280" font-family="Liberation Serif" >70</text>
<line x1="622.38" y1="322.40" x2="622.38" y2="325.20" stroke="#111" stroke-width="1.0"/>
<line x1="630.87" y1="322.40" x2="630.87" y2="323.90" stroke="#111" stroke-width="0.9"/>
<text x="622.38" y="334.60" font-size="8.0" text-anchor="middle" font-weight="bold" fill="#111" stroke="#111" stroke-width="0.280" font-family="Liberation Serif" >80</text>
<line x1="639.35" y1="322.40" x2="639.35" y2="325.20" stroke="#111" stroke-width="1.0"/>
<line x1="647.84" y1="322.40" x2="647.84" y2="323.90" stroke="#111" stroke-width="0.9"/>
<text x="639.35" y="334.60" font-size="8.0" text-anchor="middle" font-weight="bold" fill="#111" stroke="#111" stroke-width="0.280" font-family="Liberation Serif" >90</text>
<line x1="656.32" y1="322.40" x2="656.32" y2="325.20" stroke="#111" stroke-width="1.0"/>
<line x1="664.81" y1="322.40" x2="664.81" y2="323.90" stroke="#111" stroke-width="0.9"/>
<text x="656.32" y="334.60" font-size="8.0" text-anchor="middle" font-weight="bold" fill="#111" stroke="#111" stroke-width="0.280" font-family="Liberation Serif" >100</text>
<line x1="673.29" y1="322.40" x2="673.29" y2="325.20" stroke="#111" stroke-width="1.0"/>
<text x="673.29" y="334.60" font-size="8.0" text-anchor="middle" font-weight="bold" fill="#111" stroke="#111" stroke-width="0.280" font-family="Liberation Serif" >110</text>
<text x="582.00" y="347.00" font-size="9.9" text-anchor="middle" font-weight="bold" fill="#111" stroke="#111" stroke-width="0.347" font-family="Liberation Serif" >Time (s)</text>
<text x="0.00" y="0.00" font-size="10.1" text-anchor="middle" font-weight="bold" fill="#111" stroke="#111" stroke-width="0.354" font-family="Liberation Serif" transform="translate(469.6,246.7) rotate(-90)">Photocurrent (μA)</text>
<line x1="491.30" y1="178.80" x2="507.80" y2="178.80" stroke="#111111" stroke-width="1.5"/>
<text x="511.50" y="180.80" font-size="5.7" text-anchor="start" font-weight="bold" fill="#111" stroke="#111" stroke-width="0.200" font-family="Liberation Serif" >BSA/Bi<tspan font-size="5.0" dy="1.7">2</tspan><tspan dy="-1.7">WO</tspan><tspan font-size="5.0" dy="1.7">6</tspan><tspan dy="-1.7">/g-C</tspan><tspan font-size="5.0" dy="1.7">3</tspan><tspan dy="-1.7">N</tspan><tspan font-size="5.0" dy="1.7">4</tspan><tspan dy="-1.7">/CA</tspan></text>
<line x1="491.30" y1="190.60" x2="507.80" y2="190.60" stroke="#e53535" stroke-width="1.5"/>
<text x="511.50" y="192.60" font-size="5.7" text-anchor="start" font-weight="bold" fill="#111" stroke="#111" stroke-width="0.200" font-family="Liberation Serif" >HSA</text>
<line x1="491.30" y1="200.40" x2="507.80" y2="200.40" stroke="#25258f" stroke-width="1.5"/>
<text x="511.50" y="202.40" font-size="5.7" text-anchor="start" font-weight="bold" fill="#111" stroke="#111" stroke-width="0.200" font-family="Liberation Serif" >Pb deposition</text>
<line x1="491.30" y1="208.90" x2="507.80" y2="208.90" stroke="#7a4848" stroke-width="1.5"/>
<text x="511.50" y="210.90" font-size="5.7" text-anchor="start" font-weight="bold" fill="#111" stroke="#111" stroke-width="0.200" font-family="Liberation Serif" >Cd deposition</text>
<line x1="491.30" y1="217.50" x2="507.80" y2="217.50" stroke="#6a9be3" stroke-width="1.5"/>
<text x="511.50" y="219.50" font-size="5.7" text-anchor="start" font-weight="bold" fill="#111" stroke="#111" stroke-width="0.200" font-family="Liberation Serif" >Zn deposition</text>
<line x1="491.30" y1="226.50" x2="507.80" y2="226.50" stroke="#74cc2a" stroke-width="1.5"/>
<text x="511.50" y="228.50" font-size="5.7" text-anchor="start" font-weight="bold" fill="#111" stroke="#111" stroke-width="0.200" font-family="Liberation Serif" >Hg deposition</text>
<line x1="491.30" y1="234.80" x2="507.80" y2="234.80" stroke="#9433dd" stroke-width="1.5"/>
<text x="511.50" y="236.80" font-size="5.7" text-anchor="start" font-weight="bold" fill="#111" stroke="#111" stroke-width="0.200" font-family="Liberation Serif" >Complex deposition</text>
<path d="M487.00,320.60 L488,320.00 L490,320.80 L521.20,320.60 L521.50,252.50 Q521.70,248.10 524.10,248.10 L538.30,246.70 L538.50,249.70 L538.80,312.8 C539.30,317.5 540.30,319.6 542.50,320.40 L546.50,320.60 L572.50,320.60 L572.80,257.40 Q573.00,249.40 575.40,249.40 L589.20,248.10 L589.40,251.10 L589.70,312.8 C590.20,317.5 591.20,319.6 593.40,320.40 L597.40,320.60 L623.90,320.60 L624.20,254.70 Q624.40,247.80 626.80,247.80 L640.60,245.30 L640.80,248.30 L641.10,312.8 C641.60,317.5 642.60,319.6 644.80,320.40 L648.80,320.60 L673.30,320.60" fill="none" stroke="#111111" stroke-width="1.1" stroke-linejoin="round"/>
<path d="M487.00,320.80 L488,320.20 L490,321.00 L521.20,320.80 L521.50,265.10 Q521.70,262.00 524.10,262.00 L538.30,261.70 L538.50,264.70 L538.80,312.8 C539.30,317.5 540.30,319.6 542.50,320.60 L546.50,320.80 L572.50,320.80 L572.80,264.40 Q573.00,261.00 575.40,261.00 L589.20,259.20 L589.40,262.20 L589.70,312.8 C590.20,317.5 591.20,319.6 593.40,320.60 L597.40,320.80 L623.90,320.80 L624.20,262.40 Q624.40,257.60 626.80,257.60 L640.60,255.10 L640.80,258.10 L641.10,312.8 C641.60,317.5 642.60,319.6 644.80,320.60 L648.80,320.80 L673.30,320.80" fill="none" stroke="#e53535" stroke-width="1.1" stroke-linejoin="round"/>
<path d="M487.00,320.90 L488,320.30 L490,321.10 L521.20,320.90 L521.50,275.40 Q521.70,273.80 524.10,273.80 L538.30,275.30 L538.50,278.30 L538.80,312.8 C539.30,317.5 540.30,319.6 542.50,320.70 L546.50,320.90 L572.50,320.90 L572.80,274.30 Q573.00,272.60 575.40,272.60 L589.20,273.40 L589.40,276.40 L589.70,312.8 C590.20,317.5 591.20,319.6 593.40,320.70 L597.40,320.90 L623.90,320.90 L624.20,273.20 Q624.40,271.30 626.80,271.30 L640.60,271.40 L640.80,274.40 L641.10,312.8 C641.60,317.5 642.60,319.6 644.80,320.70 L648.80,320.90 L673.30,320.90" fill="none" stroke="#6a9be3" stroke-width="1.1" stroke-linejoin="round"/>
<path d="M487.00,321.00 L488,320.40 L490,321.20 L521.20,321.00 L521.50,277.30 Q521.70,275.80 524.10,275.80 L538.30,277.60 L538.50,280.60 L538.80,312.8 C539.30,317.5 540.30,319.6 542.50,320.80 L546.50,321.00 L572.50,321.00 L572.80,275.00 Q573.00,273.40 575.40,273.40 L589.20,274.30 L589.40,277.30 L589.70,312.8 C590.20,317.5 591.20,319.6 593.40,320.80 L597.40,321.00 L623.90,321.00 L624.20,274.60 Q624.40,272.80 626.80,272.80 L640.60,273.00 L640.80,276.00 L641.10,312.8 C641.60,317.5 642.60,319.6 644.80,320.80 L648.80,321.00 L673.30,321.00" fill="none" stroke="#9433dd" stroke-width="1.1" stroke-linejoin="round"/>
<path d="M487.00,321.10 L488,320.50 L490,321.30 L521.20,321.10 L521.50,277.80 Q521.70,276.00 524.10,276.00 L538.30,276.80 L538.50,279.80 L538.80,312.8 C539.30,317.5 540.30,319.6 542.50,320.90 L546.50,321.10 L572.50,321.10 L572.80,279.00 Q573.00,277.30 575.40,277.30 L589.20,277.60 L589.40,280.60 L589.70,312.8 C590.20,317.5 591.20,319.6 593.40,320.90 L597.40,321.10 L623.90,321.10 L624.20,280.50 Q624.40,278.60 626.80,278.60 L640.60,278.70 L640.80,281.70 L641.10,312.8 C641.60,317.5 642.60,319.6 644.80,320.90 L648.80,321.10 L673.30,321.10" fill="none" stroke="#7a4848" stroke-width="1.1" stroke-linejoin="round"/>
<path d="M487.00,321.00 L488,320.40 L490,321.20 L521.20,321.00 L521.50,283.50 Q521.70,281.80 524.10,281.80 L538.30,283.30 L538.50,286.30 L538.80,312.8 C539.30,317.5 540.30,319.6 542.50,320.80 L546.50,321.00 L572.50,321.00 L572.80,282.80 Q573.00,281.00 575.40,281.00 L589.20,281.60 L589.40,284.60 L589.70,312.8 C590.20,317.5 591.20,319.6 593.40,320.80 L597.40,321.00 L623.90,321.00 L624.20,281.90 Q624.40,280.00 626.80,280.00 L640.60,280.10 L640.80,283.10 L641.10,312.8 C641.60,317.5 642.60,319.6 644.80,320.80 L648.80,321.00 L673.30,321.00" fill="none" stroke="#25258f" stroke-width="1.1" stroke-linejoin="round"/>
<path d="M487.00,320.40 L488,319.80 L490,320.60 L521.20,320.40 L521.50,283.80 Q521.70,282.60 524.10,282.60 L538.30,284.60 L538.50,287.60 L538.80,312.8 C539.30,317.5 540.30,319.6 542.50,320.20 L546.50,320.40 L572.50,320.40 L572.80,284.80 Q573.00,284.00 575.40,284.00 L589.20,285.10 L589.40,288.10 L589.70,312.8 C590.20,317.5 591.20,319.6 593.40,320.20 L597.40,320.40 L623.90,320.40 L624.20,285.10 Q624.40,283.50 626.80,283.50 L640.60,284.00 L640.80,287.00 L641.10,312.8 C641.60,317.5 642.60,319.6 644.80,320.20 L648.80,320.40 L673.30,320.40" fill="none" stroke="#74cc2a" stroke-width="1.3" stroke-linejoin="round"/>
<path d="M487.5,320 L488.5,318.9 L489.7,319.6" fill="none" stroke="#e53535" stroke-width="1"/>
</svg></body></html>
